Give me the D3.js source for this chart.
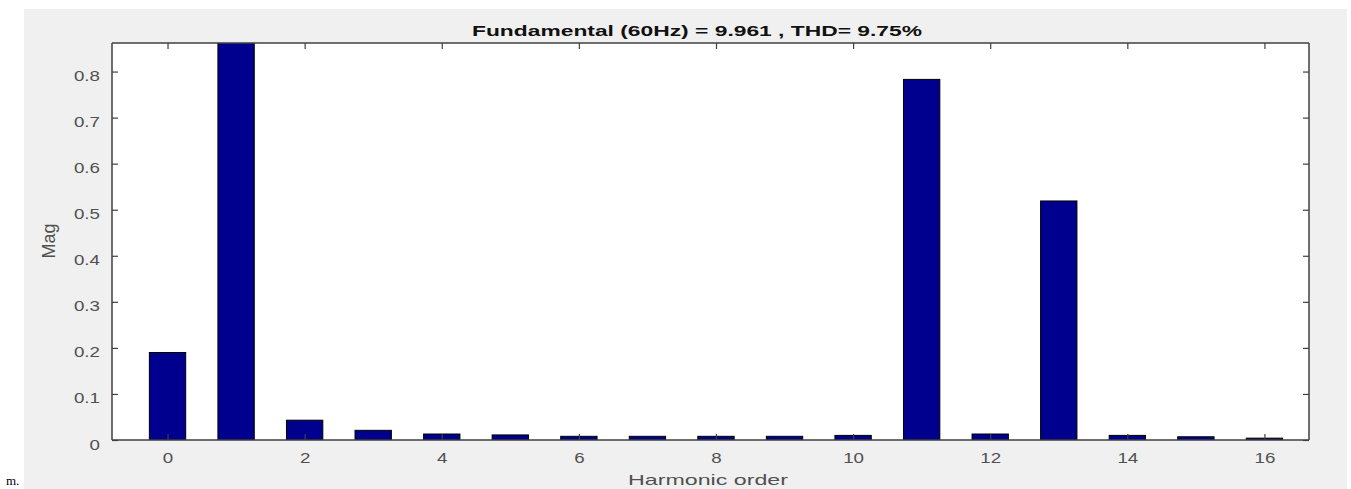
<!DOCTYPE html>
<html>
<head>
    <script src="https://cdnjs.cloudflare.com/ajax/libs/d3/7.8.5/d3.min.js"></script>
    <style>
        body { margin: 0; background: #fff; }
        svg text { font-family: "Liberation Sans", Arial, sans-serif; }
    </style>
</head>
<body>
    <svg id="chart" width="1351" height="489"></svg>

    <script>
        // harmonic order 0..16 and magnitude of each harmonic
        const orders = d3.range(0, 17);
        const mags = [0.190, 9.961, 0.043, 0.021, 0.013, 0.011, 0.008, 0.008, 0.008,
                      0.008, 0.010, 0.783, 0.013, 0.519, 0.010, 0.007, 0.004];
        const xTicks = [0, 2, 4, 6, 8, 10, 12, 14, 16];
        const yTicks = [0, 0.1, 0.2, 0.3, 0.4, 0.5, 0.6, 0.7, 0.8];
        const titleText = "Fundamental (60Hz) = 9.961 , THD= 9.75%";

        const svg = d3.select("#chart");
        const plot = { left: 112, right: 1309, top: 43, bottom: 440 };
        const stretch = 1.25;   // the source picture is wider than it is tall

        // gray figure background
        svg.append("rect")
            .attr("x", 24).attr("y", 9)
            .attr("width", 1323).attr("height", 480)
            .attr("fill", "#f0f0f0");

        svg.append("text")
            .attr("x", 6).attr("y", 485)
            .style("font-family", "'Liberation Serif', serif")
            .style("font-size", "13px")
            .text("m.");

        const x = d3.scaleLinear().domain([-0.81, 16.65]).range([plot.left, plot.right]);
        const y = d3.scaleLinear().domain([0, 0.862]).range([plot.bottom, plot.top]);
        const barW = x(0.53) - x(0);

        svg.append("rect")
            .attr("x", plot.left).attr("y", plot.top)
            .attr("width", plot.right - plot.left).attr("height", plot.bottom - plot.top)
            .attr("fill", "#fff");

        svg.append("clipPath").attr("id", "clip")
            .append("rect")
            .attr("x", plot.left).attr("y", plot.top)
            .attr("width", plot.right - plot.left).attr("height", plot.bottom - plot.top);

        // bars
        svg.append("g").attr("clip-path", "url(#clip)")
            .selectAll("rect")
            .data(orders)
            .enter().append("rect")
            .attr("x", d => x(d) - barW / 2)
            .attr("y", d => y(mags[d]))
            .attr("width", barW)
            .attr("height", d => y(0) - y(mags[d]))
            .attr("fill", "#00008f")
            .attr("stroke", "#000")
            .attr("stroke-width", 1);

        const axisColor = "#404040";
        const labelColor = "#505050";
        const tickLen = 6;

        // bottom axis
        const gx = svg.append("g")
            .attr("transform", `translate(0,${plot.bottom})`)
            .call(d3.axisBottom(x).tickValues(xTicks).tickSize(-tickLen).tickPadding(12));
        // top axis (box)
        const gxt = svg.append("g")
            .attr("transform", `translate(0,${plot.top})`)
            .call(d3.axisTop(x).tickValues(xTicks).tickSize(-tickLen).tickFormat(""));
        // left axis
        const gy = svg.append("g")
            .attr("transform", `translate(${plot.left},0)`)
            .call(d3.axisLeft(y).tickValues(yTicks).tickSize(-tickLen)
                .tickFormat(d => d === 0 ? "0" : d3.format(".1f")(d)));
        // right axis (box)
        const gyr = svg.append("g")
            .attr("transform", `translate(${plot.right},0)`)
            .call(d3.axisRight(y).tickValues(yTicks).tickSize(-tickLen).tickFormat(""));

        [gx, gxt, gy, gyr].forEach(g => {
            g.select(".domain").attr("stroke", axisColor).attr("stroke-width", 1.5)
                .attr("d", g === gx || g === gxt
                    ? `M${plot.left},0H${plot.right}`
                    : `M0,${plot.top}V${plot.bottom}`);
            g.selectAll(".tick line").attr("stroke", axisColor).attr("stroke-width", 1.2);
            g.selectAll(".tick text")
                .attr("fill", labelColor)
                .style("font-size", "15px");
        });
        gx.selectAll(".tick text").attr("transform", `scale(${stretch},1)`);
        gy.selectAll(".tick text")
            .attr("x", -12 / stretch)
            .attr("dy", "0.6em")
            .attr("transform", `scale(${stretch},1)`);

        // title
        svg.append("text")
            .attr("x", 697).attr("y", 36)
            .attr("text-anchor", "middle")
            .attr("textLength", 450)
            .attr("lengthAdjust", "spacingAndGlyphs")
            .style("font-size", "15px")
            .style("font-weight", "bold")
            .attr("fill", "#111")
            .text(titleText);

        // axis labels
        svg.append("text")
            .attr("x", 708).attr("y", 485)
            .attr("text-anchor", "middle")
            .attr("textLength", 160)
            .attr("lengthAdjust", "spacingAndGlyphs")
            .style("font-size", "15px")
            .attr("fill", labelColor)
            .text("Harmonic order");

        svg.append("text")
            .attr("transform", "translate(55,241) rotate(-90)")
            .attr("text-anchor", "middle")
            .style("font-size", "18px")
            .attr("fill", labelColor)
            .text("Mag");
    </script>
</body>
</html>
